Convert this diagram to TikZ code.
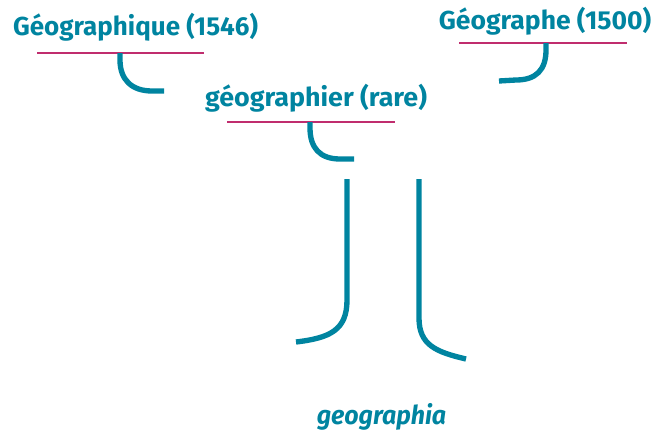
\documentclass[tikz,border=0pt]{standalone}
\usepackage{fontspec}
\setmainfont{Fira Sans}
\definecolor{teal}{RGB}{0,132,160}
\definecolor{mag}{RGB}{192,45,110}
\begin{document}
\begin{tikzpicture}[x=0.75pt,y=-0.75pt,
  word/.style={text=teal,font=\bfseries\fontsize{19.5}{22}\selectfont,inner sep=0pt,anchor=base},
  uline/.style={draw=mag,line width=2pt},
  hook/.style={draw=teal,line width=4pt}]
\useasboundingbox (0,0) rectangle (656,432);
\node[word] (g1) at (135.5,35) {Géographique (1546)};
\node[word] (g2) at (316,106) {\scalebox{1.033}[1]{géographier (rare)}};
\node[word] (g3) at (545,29) {\scalebox{1.02}[1]{Géographe (1500)}};
\node[word,font=\bfseries\itshape\fontsize{19.5}{22}\selectfont] (g4) at (381.5,424) {\scalebox{0.96}[1]{geographia}};
% underlines
\coordinate (u1a) at (37,53); \coordinate (u1b) at (204,53);
\coordinate (u2a) at (227,122); \coordinate (u2b) at (395,122);
\coordinate (u3a) at (459,43); \coordinate (u3b) at (627,43);
\draw[uline] (u1a) -- (u1b);
\draw[uline] (u2a) -- (u2b);
\draw[uline] (u3a) -- (u3b);
% hooks
\draw[hook] (120,53) -- (120,60) .. controls (120,80) and (132,91) .. (152,91) -- (164,91);
\draw[hook] (310,122) -- (310,128) .. controls (310,148) and (320,159) .. (340,159) -- (354,159);
\draw[hook] (546,43) -- (546,50) .. controls (546,70) and (536,80) .. (516,80) -- (499,81);
% stems
\draw[hook] (347,179) -- (347,300) .. controls (347,330) and (330,338) .. (296,342);
\draw[hook] (419,179) -- (419,318) .. controls (419,345) and (436,352) .. (466,359);
\end{tikzpicture}
\end{document}
